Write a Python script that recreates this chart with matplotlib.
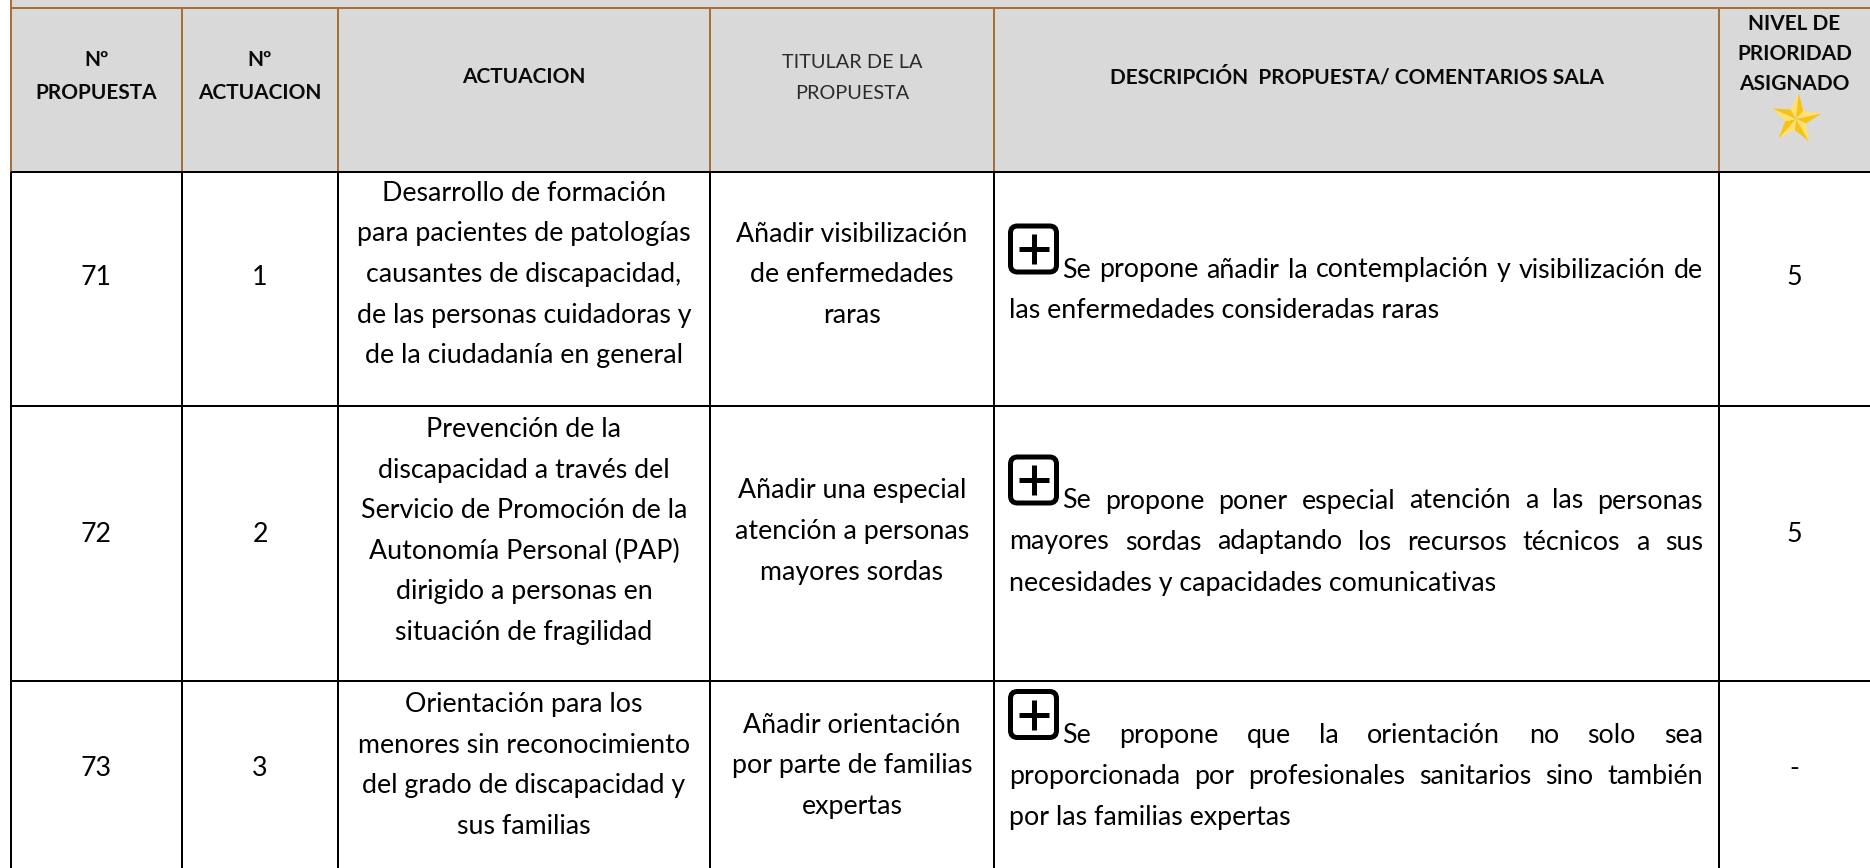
import matplotlib
matplotlib.use('Agg')
import matplotlib.pyplot as plt
from matplotlib.patches import FancyBboxPatch, Polygon, Rectangle
import numpy as np

# ---------------- data ----------------
header_col1 = ["Nº", "PROPUESTA"]
header_col2 = ["Nº", "ACTUACION"]
header_col3 = ["ACTUACION"]
header_col4 = ["TITULAR DE LA", "PROPUESTA"]
header_col5 = ["DESCRIPCIÓN  PROPUESTA/ COMENTARIOS SALA"]
header_col6 = ["NIVEL DE", "PRIORIDAD", "ASIGNADO"]

propuesta_nums = ["71", "72", "73"]
actuacion_nums = ["1", "2", "3"]
actuacion_lines = [
    ["Desarrollo de formación", "para pacientes de patologías",
     "causantes de discapacidad,", "de las personas cuidadoras y",
     "de la ciudadanía en general"],
    ["Prevención de la", "discapacidad a través del",
     "Servicio de Promoción de la", "Autonomía Personal (PAP)",
     "dirigido a personas en", "situación de fragilidad"],
    ["Orientación para los", "menores sin reconocimiento",
     "del grado de discapacidad y", "sus familias"],
]
titular_lines = [
    ["Añadir visibilización", "de enfermedades", "raras"],
    ["Añadir una especial", "atención a personas", "mayores sordas"],
    ["Añadir orientación", "por parte de familias", "expertas"],
]
descripcion_lines = [
    ["Se propone añadir la contemplación y visibilización de",
     "las enfermedades consideradas raras"],
    ["Se propone poner especial atención a las personas",
     "mayores sordas adaptando los recursos técnicos a sus",
     "necesidades y capacidades comunicativas"],
    ["Se propone que la orientación no solo sea",
     "proporcionada por profesionales sanitarios sino también",
     "por las familias expertas"],
]
descripcion_justified = [[True, False], [True, True, False], [True, True, False]]
nivel_prioridad = ["5", "5", "-"]

# ---------------- layout ----------------
W, H, DPI = 1870, 868, 100
col_x = [11, 182, 338, 710, 994, 1719, 1870]
row_y = [171.5, 405.5, 681, 868]
top_line_y = 7.5
row_center = [272, 528.5, 763]
LS = 40.6
DESC_LS = 41
BROWN = '#A86F3A'
GRAY = '#D9D9D9'
LW = 2 * 72 / DPI

BODY_FONT = ['Lato', 'DejaVu Sans']
HEAD_FONT = ['Lato', 'DejaVu Sans']

fig = plt.figure(figsize=(W / DPI, H / DPI), dpi=DPI)
ax = fig.add_axes([0, 0, 1, 1])
ax.set_xlim(0, W)
ax.set_ylim(H, 0)
ax.axis('off')
renderer = fig.canvas.get_renderer()


def text_width(s, **kw):
    t = ax.text(0, 0, s, **kw)
    w = t.get_window_extent(renderer).width
    t.remove()
    return w


def fit_size(s, target, base=20, **kw):
    return base * target / text_width(s, fontsize=base, **kw)


desc_left, desc_right, desc_after_icon = 1009, 1703, 1062

# body size: match reference width, but keep every justified line fitting
sizes = [fit_size("las enfermedades consideradas raras", 476, family=BODY_FONT)]
for i, lines in enumerate(descripcion_lines):
    for j, s in enumerate(lines):
        if descripcion_justified[i][j]:
            avail = desc_right - (desc_after_icon if j == 0 else desc_left)
            sizes.append(fit_size(s, avail * 0.985, family=BODY_FONT))
body_fs = min(sizes)
head_fs = fit_size("ACTUACION", 124, family=HEAD_FONT, fontweight='bold')
tit_fs = fit_size("TITULAR DE LA", 140, family=BODY_FONT)
body_kw = dict(family=BODY_FONT, fontsize=body_fs, color='black')
head_kw = dict(family=HEAD_FONT, fontsize=head_fs, fontweight='bold', color='#0a0a0a')
tit_kw = dict(family=BODY_FONT, fontsize=tit_fs, color='#2a2a2a')

# ---------------- header background & grid ----------------
ax.add_patch(Rectangle((col_x[0], 0), W - col_x[0], row_y[0], facecolor=GRAY,
                       edgecolor='none', zorder=0))
ax.hlines(top_line_y, col_x[0], W, colors=BROWN, lw=LW, zorder=2)
ax.vlines(col_x[0], 0, row_y[0], colors=BROWN, lw=LW, zorder=2)
ax.vlines(col_x[1:-1], top_line_y, row_y[0], colors=BROWN, lw=LW, zorder=2)
ax.hlines(row_y[:-1], col_x[0], W, colors='black', lw=LW, zorder=3)
ax.vlines(col_x[:-1], row_y[0], H, colors='black', lw=LW, zorder=3)

# ---------------- header texts ----------------
def centers(i):
    return (col_x[i] + col_x[i + 1]) / 2

for lines, ci, bases in [(header_col1, 0, [66, 99]), (header_col2, 1, [66, 99]),
                         (header_col3, 2, [83]), (header_col5, 4, [83]),
                         (header_col6, 5, [30.5, 60, 90])]:
    for s, b in zip(lines, bases):
        ax.text(centers(ci), b, s, ha='center', va='baseline', **head_kw)
for s, b in zip(header_col4, [68, 99]):
    ax.text(centers(3), b, s, ha='center', va='baseline', **tit_kw)

# star
cx, cy, R, r = 1796, 119, 26, 11
rot = np.deg2rad(6)
for k in range(5):
    a_out = -np.pi / 2 + rot + k * 2 * np.pi / 5
    P = (cx + R * np.cos(a_out), cy + R * np.sin(a_out))
    L = (cx + r * np.cos(a_out - np.pi / 5), cy + r * np.sin(a_out - np.pi / 5))
    Rr = (cx + r * np.cos(a_out + np.pi / 5), cy + r * np.sin(a_out + np.pi / 5))
    ax.add_patch(Polygon([(cx, cy), L, P], closed=True, facecolor='#FFE070',
                         edgecolor='none', zorder=4))
    ax.add_patch(Polygon([(cx, cy), P, Rr], closed=True, facecolor='#F6C314',
                         edgecolor='none', zorder=4))

# ---------------- body ----------------
def draw_centered_block(lines, xc, yc):
    n = len(lines)
    for i, s in enumerate(lines):
        b = yc + (i - (n - 1) / 2) * LS + 10
        ax.text(xc, b, s, ha='center', va='baseline', **body_kw)


def draw_line(s, x0, x1, baseline, justify):
    if not justify:
        ax.text(x0, baseline, s, ha='left', va='baseline', **body_kw)
        return
    words = s.split()
    widths = [text_width(w, **body_kw) for w in words]
    gap = (x1 - x0 - sum(widths)) / (len(words) - 1)
    x = x0
    for w, wd in zip(words, widths):
        ax.text(x, baseline, w, ha='left', va='baseline', **body_kw)
        x += wd + gap


def draw_plus_icon(x, y_top, size=51):
    lwp = 5
    ax.add_patch(FancyBboxPatch((x + lwp / 2, y_top + lwp / 2), size - lwp, size - lwp,
                                boxstyle="round,pad=0,rounding_size=7",
                                facecolor='white', edgecolor='black',
                                lw=lwp * 72 / DPI, zorder=4))
    mx, my = x + size / 2, y_top + size / 2
    arm = 15
    ax.plot([mx - arm, mx + arm], [my, my], color='black', lw=lwp * 72 / DPI,
            solid_capstyle='butt', zorder=5)
    ax.plot([mx, mx], [my - arm, my + arm], color='black', lw=lwp * 72 / DPI,
            solid_capstyle='butt', zorder=5)


for i in range(3):
    yc = row_center[i]
    ax.text(centers(0), yc + 13, propuesta_nums[i], ha='center', va='baseline', **body_kw)
    ax.text(centers(1), yc + 13, actuacion_nums[i], ha='center', va='baseline', **body_kw)
    draw_centered_block(actuacion_lines[i], centers(2), yc)
    draw_centered_block(titular_lines[i], centers(3), yc + 0.5)
    ax.text(centers(5), yc + 13, nivel_prioridad[i], ha='center', va='baseline', **body_kw)

    lines = descripcion_lines[i]
    n = len(lines)
    first_base = yc - 3.5 - 25.5 * (n - 2)
    draw_plus_icon(1008, first_base + 6 - 51)
    for j, s in enumerate(lines):
        base = first_base + 9 + j * DESC_LS
        x0 = desc_after_icon if j == 0 else desc_left
        draw_line(s, x0, desc_right, base, descripcion_justified[i][j])

fig.savefig('out.png', dpi=DPI)
